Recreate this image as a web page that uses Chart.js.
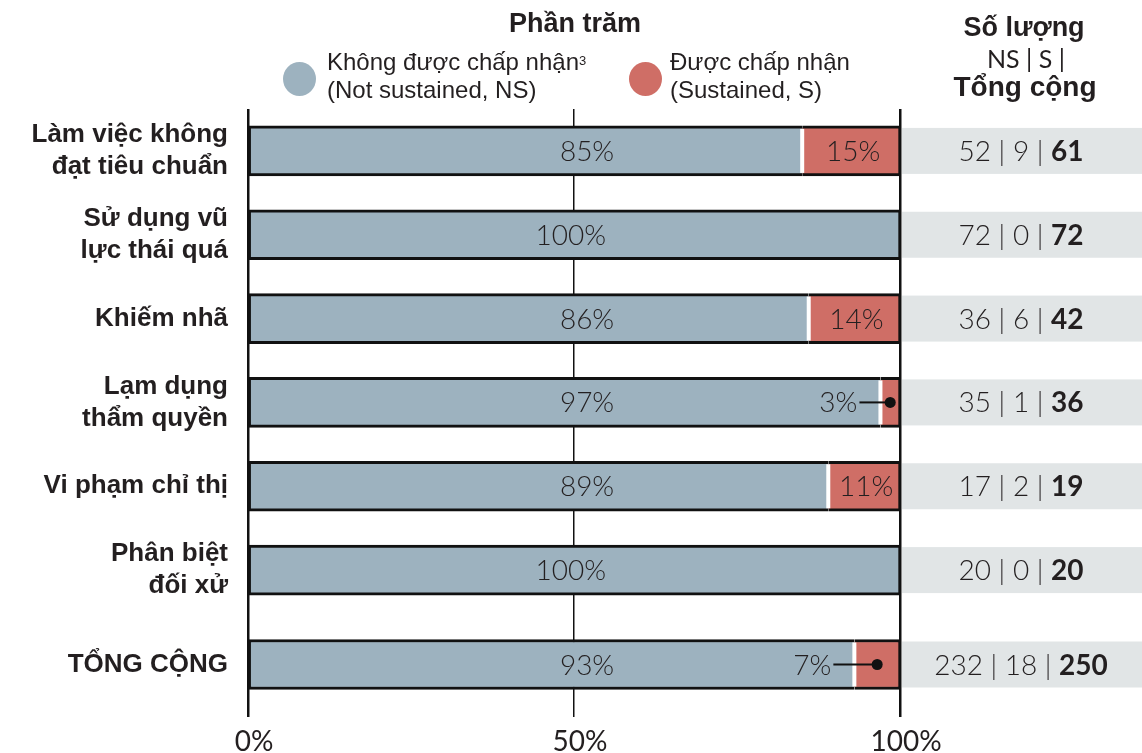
<!DOCTYPE html>
<html><head><meta charset="utf-8">
<script src="https://cdn.jsdelivr.net/npm/chart.js@4.4.1/dist/chart.umd.min.js"></script>
<style>
html,body{margin:0;padding:0;background:#fff;}
#wrap{position:relative;width:1142px;height:753px;overflow:hidden;}
#cA{position:absolute;left:0;top:0;}
#cB{position:absolute;left:0;top:612px;}
.h{position:absolute;color:#231f20;font-family:"Liberation Sans",Arial,sans-serif;white-space:nowrap;line-height:1;}
.b{font-weight:bold;}
.dot{position:absolute;border-radius:50%;}
.lg{position:absolute;color:#231f20;font-family:"Liberation Sans",Arial,sans-serif;font-size:24px;line-height:28px;white-space:nowrap;}
.lg sup{font-size:13px;vertical-align:top;position:relative;top:-1px;}
</style></head><body>
<div id="wrap">
<canvas id="cA" width="1142" height="612"></canvas>
<canvas id="cB" width="1142" height="141"></canvas>
<div class="h b" style="left:425px;width:300px;top:10px;text-align:center;font-size:27px;">Phần trăm</div>
<div class="dot" style="left:283px;top:62px;width:33px;height:34px;background:#9db2bf;"></div>
<div class="lg" style="left:327px;top:48px;">Không được chấp nhận<sup>3</sup><br>(Not sustained, NS)</div>
<div class="dot" style="left:629px;top:62px;width:33px;height:34px;background:#cf6e66;"></div>
<div class="lg" style="left:670px;top:48px;">Được chấp nhận<br>(Sustained, S)</div>
<div class="h b" style="left:924px;width:200px;top:14px;text-align:center;font-size:27px;">Số lượng</div>
<div class="h" style="left:926px;width:200px;top:46px;text-align:center;font-size:25px;font-family:Lato,sans-serif;font-weight:400;">NS | S |</div>
<div class="h b" style="left:925px;width:200px;top:73px;text-align:center;font-size:28px;">Tổng cộng</div>
</div>
<script>
// ---- data ----
const categories = [['Làm việc không','đạt tiêu chuẩn'],['Sử dụng vũ','lực thái quá'],'Khiếm nhã',['Lạm dụng','thẩm quyền'],'Vi phạm chỉ thị',['Phân biệt','đối xử']];
const totalLabel = ['TỔNG CỘNG'];
const nsPct = [85,100,86,97,89,100];
const sPct = [15,0,14,3,11,0];
const nsTotalPct = [93];
const sTotalPct = [7];
const nsCount = [52,72,36,35,17,20];
const sCount = [9,0,6,1,2,0];
const totalCount = [61,72,42,36,19,20];
const nsTotalCount = [232];
const sTotalCount = [18];
const grandTotal = [250];
const xTicks = [0,50,100];

const NS_COLOR = '#9db2bf', S_COLOR = '#cf6e66', INK = '#231f20', EDGE = '#111111', TABLE_BG = '#e1e5e6';
const NUM_FONT = 'Lato, sans-serif';

const nsBorder = ctx => ({top:3,bottom:3,left:2,right:(ctx.raw>=100?2:0)});
const sBorder = {top:3,bottom:3,left:0,right:2};
function ds(label,data,color,border){
  return {label,data,backgroundColor:color,borderColor:EDGE,borderWidth:border,borderSkipped:false,barThickness:50};
}

function overlayFor(g){
  return {
    id:'overlay',
    afterDatasetsDraw(chart){
      const ctx = chart.ctx, xs = chart.scales.x;
      const tableCx = (xs.right + chart.width)/2;
      const mN = chart.getDatasetMeta(0).data;
      mN.forEach((bar,i)=>{
        const p = bar.getProps(['y','height'],true);
        const top = p.y - p.height/2, h = p.height;
        const nv = g.nv[i], sv = g.sv[i];
        const bx = xs.getPixelForValue(nv);
        ctx.save();
        if (sv>0){
          ctx.fillStyle = '#ffffff';
          ctx.fillRect(bx-2, top+3, 4, h-6);
        }
        ctx.fillStyle = INK;
        ctx.textBaseline = 'middle';
        ctx.font = '300 28px '+NUM_FONT;
        ctx.textAlign = 'center';
        ctx.fillText(nv+'%', xs.getPixelForValue(nv>=100?49.5:52), p.y+1);
        if (sv>0){
          const sEnd = xs.getPixelForValue(nv+sv);
          const cx = (bx+sEnd)/2;
          if (sv>=10){
            ctx.fillText(sv+'%', cx+2, p.y+1);
          } else {
            ctx.strokeStyle = EDGE; ctx.lineWidth = 2;
            ctx.beginPath(); ctx.moveTo(bx-21, p.y); ctx.lineTo(cx, p.y); ctx.stroke();
            ctx.beginPath(); ctx.arc(cx, p.y, 5.5, 0, Math.PI*2); ctx.fillStyle = EDGE; ctx.fill();
            ctx.fillStyle = INK; ctx.textAlign = 'right';
            ctx.fillText(sv+'%', bx-23, p.y+1);
          }
        }
        // count table row
        ctx.fillStyle = TABLE_BG;
        ctx.fillRect(xs.right+2, top+2, chart.width-xs.right-2, h-4);
        const a = g.nc[i]+' | '+g.sc[i]+' | ';
        const b = String(g.tc[i]);
        ctx.font = '300 28px '+NUM_FONT;
        const wa = ctx.measureText(a).width;
        ctx.font = 'bold 28px '+NUM_FONT;
        const wb = ctx.measureText(b).width;
        const sx = tableCx - (wa+wb)/2;
        ctx.textAlign = 'left'; ctx.fillStyle = INK;
        ctx.font = '300 28px '+NUM_FONT;
        ctx.fillText(a, sx, p.y+1);
        ctx.font = 'bold 28px '+NUM_FONT;
        ctx.fillText(b, sx+wa, p.y+1);
        ctx.restore();
      });
    }
  };
}

const yTickFont = {family:'"Liberation Sans", Arial, sans-serif', size:26, weight:'bold', lineHeight:1.23};
function noPad(s){ s.paddingTop = 0; s.paddingBottom = 0; s.paddingLeft = 0; s.paddingRight = 0; }

function makeChart(el, labels, g, showX, padTop){
  return new Chart(document.getElementById(el), {
    type:'bar',
    data:{labels, datasets:[
      ds('Không được chấp nhận (NS)', g.nv, NS_COLOR, nsBorder),
      ds('Được chấp nhận (S)', g.sv, S_COLOR, sBorder)
    ]},
    options:{
      indexAxis:'y', responsive:false, animation:false, devicePixelRatio:1,
      layout:{padding:{top:padTop, right:242, left:0, bottom:0}},
      plugins:{legend:{display:false}, tooltip:{enabled:false}, title:{display:false}},
      scales:{
        x:{type:'linear', min:0, max:100, stacked:true, position:'bottom',
          afterBuildTicks: s => { s.ticks = xTicks.map(v=>({value:v})); },
          grid:{color:EDGE, lineWidth: c => (c.tick && c.tick.value===50) ? 1.5 : 2.5, drawTicks:false},
          border:{display:false},
          ticks:{display:showX, callback: v => v+'%', font:{family:NUM_FONT, size:28}, color:INK, padding:8, labelOffset:6, maxRotation:0, autoSkip:false},
          afterFit: s => { s.height = showX ? 36 : 0; noPad(s); }},
        y:{type:'category', offset:true, stacked:true, position:'left',
          grid:{display:false, drawTicks:false}, border:{display:false},
          ticks:{font:yTickFont, color:INK, padding:20, autoSkip:false},
          afterFit: s => { s.width = 248; noPad(s); }}
      }
    },
    plugins:[overlayFor(g)]
  });
}

makeChart('cA', categories, {nv:nsPct, sv:sPct, nc:nsCount, sc:sCount, tc:totalCount}, false, 109);
makeChart('cB', totalLabel, {nv:nsTotalPct, sv:sTotalPct, nc:nsTotalCount, sc:sTotalCount, tc:grandTotal}, true, 0);
</script>
</body></html>
